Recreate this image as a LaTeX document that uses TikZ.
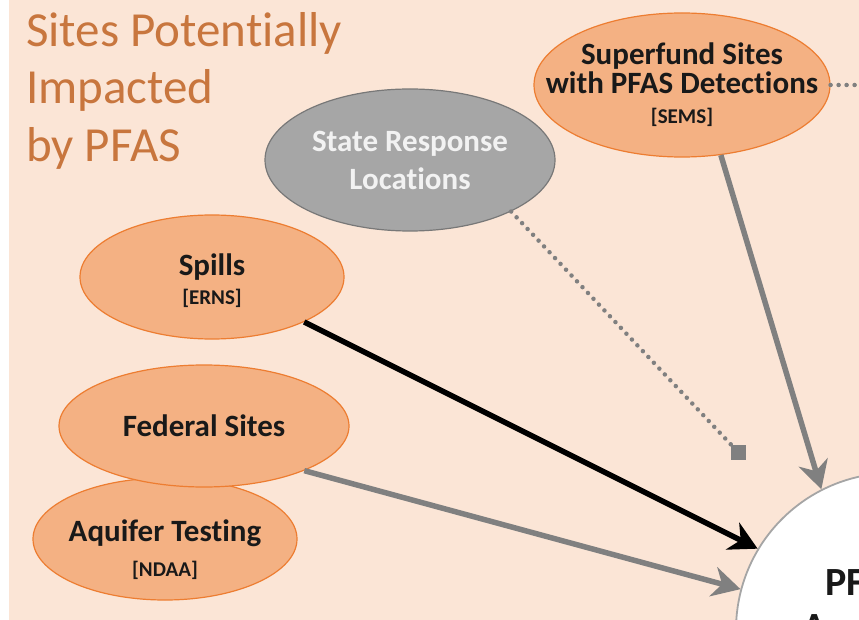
\documentclass[tikz,border=0pt]{standalone}
\usepackage{fontspec}
\setmainfont{Carlito}[Ligatures=NoCommon]
\usetikzlibrary{shapes.geometric,arrows.meta}
\definecolor{bgpeach}{RGB}{251,229,214}
\definecolor{orfill}{RGB}{244,177,131}
\definecolor{ordraw}{RGB}{237,125,49}
\definecolor{grfill}{RGB}{166,166,166}
\definecolor{grdraw}{RGB}{120,120,120}
\definecolor{grtext}{RGB}{242,242,242}
\definecolor{titlecol}{RGB}{200,118,62}
\definecolor{arrgray}{RGB}{128,128,128}
\definecolor{txtdark}{RGB}{25,25,25}
\definecolor{circdraw}{RGB}{165,165,165}
\pgfdeclareradialshading{pfasshade}{\pgfpoint{0bp}{0bp}}{color(0bp)=(white); color(38bp)=(white); color(50bp)=(black!22); color(100bp)=(black!22)}
\newcommand{\tagtxt}[1]{{\fontsize{21}{24}\selectfont #1}}
\begin{document}
\begin{tikzpicture}[x=1pt,y=-1pt,
  src/.style={ellipse, draw=ordraw, line width=1.2pt, fill=orfill, inner xsep=-60pt, inner ysep=-25pt, align=center, text=txtdark, font=\fontsize{31}{35}\selectfont\bfseries},
  graysrc/.style={ellipse, draw=grdraw, line width=1.2pt, fill=grfill, inner xsep=-60pt, inner ysep=-25pt, align=center, text=grtext, font=\fontsize{31}{38}\selectfont\bfseries},
  titletext/.style={anchor=base west, inner sep=0pt, text=titlecol, font=\fontsize{49}{49}\selectfont},
  pfastext/.style={anchor=base west, inner sep=0pt, text=txtdark, font=\fontsize{40}{44}\selectfont\bfseries},
  link/.style={line width=5.5pt, -{Stealth[length=28pt,width=30pt,inset=9pt]}},
  graylink/.style={link, draw=arrgray},
  blacklink/.style={link, draw=black},
  dotlink/.style={draw=arrgray, line width=4.5pt, line cap=round, dash pattern=on 0pt off 8pt},
]
\useasboundingbox (0,0) rectangle (859,620);
\clip (0,0) rectangle (859,620);
\fill[white] (0,0) rectangle (859,620);
\fill[bgpeach] (9,0) rectangle (859,620);

% title
\node[titletext] (t1) at (26,47) {Sites Potentially};
\node[titletext] (t2) at (26,104) {Impacted};
\node[titletext] (t3) at (26,162) {by PFAS};

% target circle
\node[circle, shading=pfasshade, draw=circdraw, line width=1.8pt, minimum size=314pt, inner sep=0pt] (pfas) at (893,630) {};
\node[pfastext] (pfasA) at (825,595) {PFAS};
\node[pfastext] (pfasB) at (802,640) {Analytic};

% sources
\node[graysrc, minimum width=290pt, minimum height=142pt] (state) at (410,160) {State Response\\Locations};
\node[src, minimum width=296pt, minimum height=144pt] (superfund) at (682,85) {Superfund Sites\\[-6pt]with PFAS Detections\\[-5pt]\tagtxt{[SEMS]}};
\node[src, minimum width=264pt, minimum height=124pt] (spills) at (212,277) {\rule{0pt}{30pt}Spills\\[-6pt]\tagtxt{[ERNS]}};
\node[src, minimum width=264pt, minimum height=122pt] (aquifer) at (165,539) {\rule{0pt}{44pt}Aquifer Testing\\\tagtxt{[NDAA]}};
\node[src, minimum width=290pt, minimum height=122pt] (federal) at (204,426) {Federal Sites};

\node[rectangle, fill=arrgray, minimum size=15pt, inner sep=0pt] (sq) at (738,452) {};
\coordinate (offR) at (880,85);

% connectors
\draw[dotlink] (state.-27) -- (sq);
\draw[dotlink] (superfund.east) -- (offR);
\draw[graylink] (superfund.-61) -- (pfas.117);
\draw[blacklink] (spills.-26) -- (pfas.149);
\draw[graylink] (federal.-24) -- (pfas.165);
\end{tikzpicture}
\end{document}
